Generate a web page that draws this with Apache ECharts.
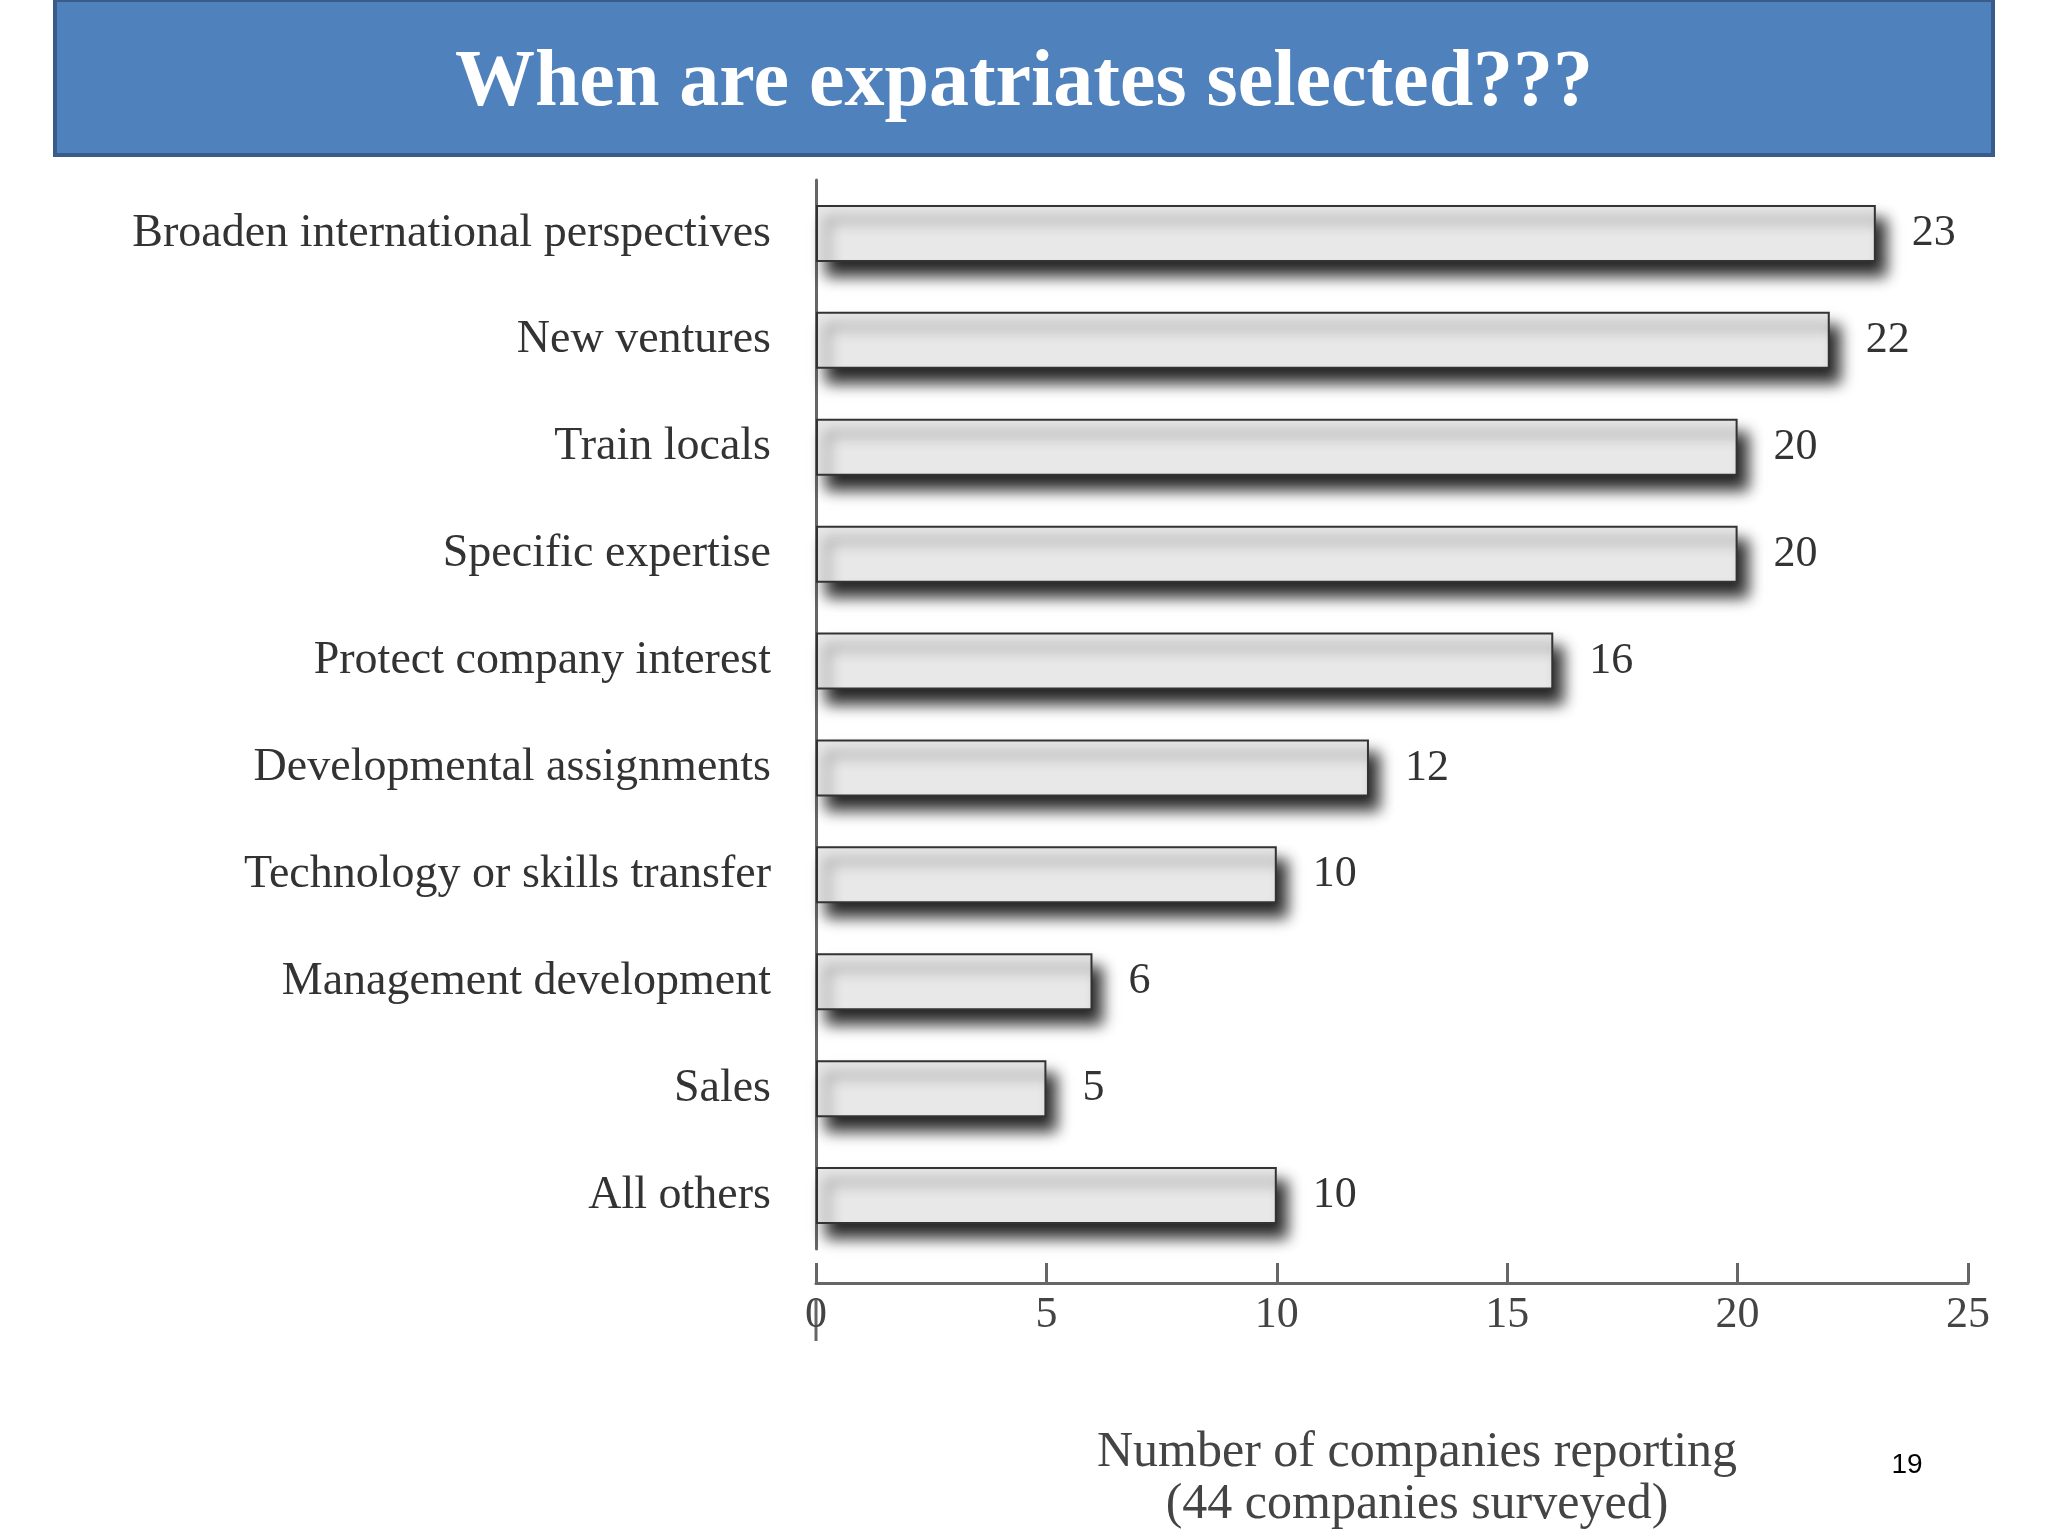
<!DOCTYPE html>
<html><head><meta charset="utf-8">
<script src="https://cdn.jsdelivr.net/npm/echarts@6/dist/echarts.min.js"></script>
<style>html,body{margin:0;padding:0;background:#fff}#c{width:2048px;height:1536px}</style>
</head><body><div id="c"></div>
<script>
const categories = ["Broaden international perspectives","New ventures","Train locals","Specific expertise","Protect company interest","Developmental assignments","Technology or skills transfer","Management development","Sales","All others"];
const values = [23,22,20,20,16,12,10,6,5,10];
const xTicks = [0,5,10,15,20,25];
const serif = '"Liberation Serif","DejaVu Serif",serif';
const chart = echarts.init(document.getElementById('c'));
chart.setOption({
  backgroundColor:'#fff',
  graphic:[
    {type:'rect',shape:{x:55,y:0,width:1938,height:155},style:{fill:'#4F81BD',stroke:'#385D8A',lineWidth:4}},
    {type:'text',x:1024,y:84,style:{text:'When are expatriates selected???',fill:'#fff',font:'bold 80px '+serif,textAlign:'center',textVerticalAlign:'middle'}},
    {type:'text',x:1907,y:1465,style:{text:'19',fill:'#000',font:'28px "Liberation Sans",Arial,sans-serif',textAlign:'center',textVerticalAlign:'middle'}},
    {type:'line',shape:{x1:816,y1:1300,x2:816,y2:1341},style:{stroke:'#666',lineWidth:3}}
  ],
  grid:{left:816,right:80,top:180,bottom:229,containLabel:false},
  xAxis:{type:'value',min:0,max:25,interval:5,offset:34,
    axisLine:{show:true,lineStyle:{color:'#666',width:3}},
    axisTick:{show:true,inside:true,length:20,lineStyle:{color:'#666',width:3}},
    splitLine:{show:false},
    axisLabel:{color:'#444',fontFamily:serif,fontSize:44,margin:10,formatter:v=>xTicks.includes(v)?String(v):''},
    name:'Number of companies reporting\n(44 companies surveyed)',nameLocation:'middle',nameGap:144,
    nameTextStyle:{color:'#444',fontFamily:serif,fontSize:50,lineHeight:52,padding:[0,0,0,50]}},
  yAxis:{type:'category',inverse:true,data:categories,
    axisLine:{show:true,lineStyle:{color:'#666',width:3}},axisTick:{show:false},
    axisLabel:{color:'#333',fontFamily:serif,fontSize:46,margin:45}},
  series:[{type:'bar',data:values,barWidth:57,
    itemStyle:{color:'#E8E8E8',borderColor:'#333',borderWidth:2,shadowColor:'rgba(0,0,0,0.85)',shadowBlur:14,shadowOffsetX:10,shadowOffsetY:14},
    label:{show:true,position:'right',distance:36,color:'#333',fontFamily:serif,fontSize:44}}]
});
</script></body></html>
